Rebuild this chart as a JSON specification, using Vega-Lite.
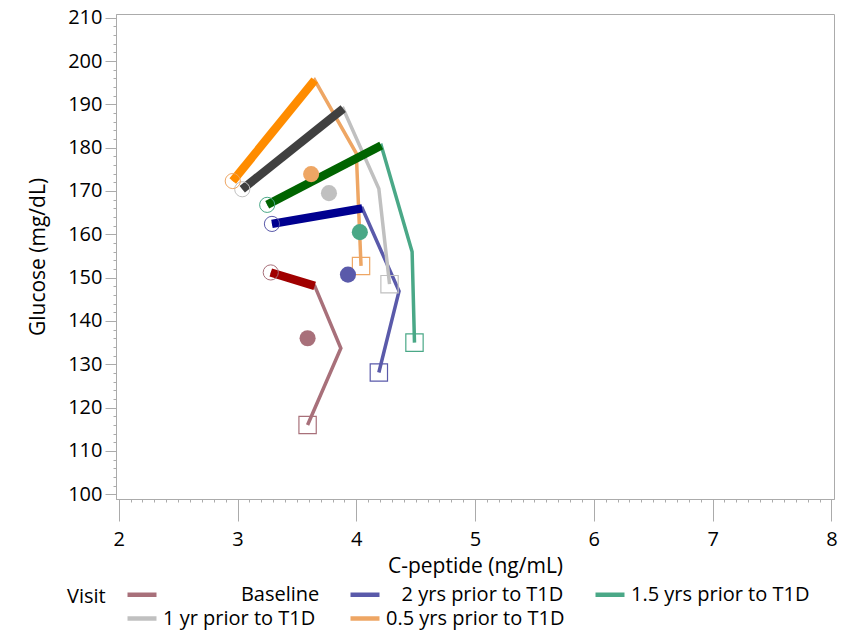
{
  "$schema": "https://vega.github.io/schema/vega-lite/v6.json",
  "width": 718,
  "height": 485,
  "autosize": {"type": "none"},
  "padding": {"left": 116, "top": 14, "right": 25, "bottom": 131},
  "background": "white",
  "config": {
    "font": "Open Sans",
    "view": {"stroke": "#ABABAB", "strokeWidth": 1},
    "axis": {
      "grid": false,
      "domainColor": "#ABABAB",
      "tickColor": "#ABABAB",
      "labelColor": "#000000",
      "labelFontSize": 20,
      "titleColor": "#000000",
      "titleFontSize": 21,
      "titleFontWeight": "normal"
    }
  },
  "datasets": {
    "ogtt": [
      {"visit": "Baseline", "step": 1, "cpep": 3.28, "glu": 151.2},
      {"visit": "Baseline", "step": 2, "cpep": 3.65, "glu": 148.1},
      {"visit": "Baseline", "step": 3, "cpep": 3.87, "glu": 133.7},
      {"visit": "Baseline", "step": 4, "cpep": 3.59, "glu": 116.0},
      {"visit": "2 yrs prior to T1D", "step": 1, "cpep": 3.29, "glu": 162.4},
      {"visit": "2 yrs prior to T1D", "step": 2, "cpep": 4.05, "glu": 166.0},
      {"visit": "2 yrs prior to T1D", "step": 3, "cpep": 4.36, "glu": 146.9},
      {"visit": "2 yrs prior to T1D", "step": 4, "cpep": 4.19, "glu": 128.1},
      {"visit": "1.5 yrs prior to T1D", "step": 1, "cpep": 3.25, "glu": 166.8},
      {"visit": "1.5 yrs prior to T1D", "step": 2, "cpep": 4.21, "glu": 180.5},
      {"visit": "1.5 yrs prior to T1D", "step": 3, "cpep": 4.47, "glu": 156.0},
      {"visit": "1.5 yrs prior to T1D", "step": 4, "cpep": 4.49, "glu": 135.0},
      {"visit": "1 yr prior to T1D", "step": 1, "cpep": 3.04, "glu": 170.4},
      {"visit": "1 yr prior to T1D", "step": 2, "cpep": 3.89, "glu": 189.0},
      {"visit": "1 yr prior to T1D", "step": 3, "cpep": 4.19, "glu": 170.5},
      {"visit": "1 yr prior to T1D", "step": 4, "cpep": 4.28, "glu": 148.5},
      {"visit": "0.5 yrs prior to T1D", "step": 1, "cpep": 2.96, "glu": 172.3},
      {"visit": "0.5 yrs prior to T1D", "step": 2, "cpep": 3.65, "glu": 195.6},
      {"visit": "0.5 yrs prior to T1D", "step": 3, "cpep": 4.0, "glu": 178.7},
      {"visit": "0.5 yrs prior to T1D", "step": 4, "cpep": 4.04, "glu": 152.7}
    ],
    "means": [
      {"visit": "Baseline", "cpep": 3.59, "glu": 136.0},
      {"visit": "2 yrs prior to T1D", "cpep": 3.93, "glu": 150.7},
      {"visit": "1.5 yrs prior to T1D", "cpep": 4.03, "glu": 160.5},
      {"visit": "1 yr prior to T1D", "cpep": 3.77, "glu": 169.5},
      {"visit": "0.5 yrs prior to T1D", "cpep": 3.62, "glu": 173.9}
    ]
  },
  "resolve": {"axis": {"x": "independent", "y": "independent"}},
  "layer": [
    {
      "data": {"name": "ogtt"},
      "mark": {"type": "line", "strokeWidth": 3.5},
      "encoding": {
        "x": {
          "field": "cpep",
          "type": "quantitative",
          "scale": {"domain": [1.977, 8.022], "nice": false, "zero": false},
          "axis": {
            "orient": "bottom",
            "title": "C-peptide (ng/mL)",
            "values": [2, 3, 4, 5, 6, 7, 8],
            "format": "d",
            "tickSize": 22,
            "labelPadding": 8,
            "titlePadding": 6
          }
        },
        "y": {
          "field": "glu",
          "type": "quantitative",
          "scale": {"domain": [98.91, 210.85], "nice": false, "zero": false},
          "axis": {
            "orient": "left",
            "title": "Glucose (mg/dL)",
            "values": [100, 110, 120, 130, 140, 150, 160, 170, 180, 190, 200, 210],
            "tickSize": 11,
            "labelPadding": 3,
            "titlePadding": 19
          }
        },
        "color": {
          "field": "visit",
          "type": "nominal",
          "scale": {
            "domain": ["Baseline", "2 yrs prior to T1D", "1.5 yrs prior to T1D", "1 yr prior to T1D", "0.5 yrs prior to T1D"],
            "range": ["#A8707A", "#5A5AAA", "#4AA887", "#C0C0C0", "#EEA664"]
          },
          "legend": {
            "orient": "none",
            "legendX": -49,
            "legendY": 568,
            "direction": "horizontal",
            "columns": 3,
            "columnPadding": 21,
            "rowPadding": 1,
            "title": "Visit",
            "titleOrient": "left",
            "titleAnchor": "start",
            "titleBaseline": "line-top",
            "titleLineHeight": 30,
            "titleFontSize": 20,
            "titleFontWeight": "normal",
            "titleColor": "#000000",
            "titlePadding": 19,
            "labelFontSize": 20,
            "labelColor": "#000000",
            "labelLimit": 400,
            "labelOffset": 13,
            "labelExpr": "datum.label == 'Baseline' ? '\u200b\u00a0\u00a0\u00a0\u00a0\u00a0\u00a0\u00a0\u00a0\u00a0\u00a0\u00a0\u00a0\u00a0\u00a0\u00a0Baseline' : datum.label == '2 yrs prior to T1D' ? '\u200b\u00a0\u00a0\u00a02 yrs prior to T1D' : datum.label",
            "symbolType": "M-1,0H1.9",
            "symbolSize": 400,
            "symbolStrokeWidth": 4.5
          }
        },
        "order": {"field": "step", "type": "quantitative"}
      }
    },
    {
      "data": {"name": "ogtt"},
      "transform": [{"filter": "datum.step <= 2"}],
      "mark": {"type": "line", "strokeWidth": 8.5},
      "encoding": {
        "x": {
          "field": "cpep",
          "type": "quantitative",
          "axis": {
            "orient": "bottom",
            "title": null,
            "labels": false,
            "domain": false,
            "tickSize": 3,
            "values": [2, 2.1, 2.2, 2.3, 2.4, 2.5, 2.6, 2.7, 2.8, 2.9, 3, 3.1, 3.2, 3.3, 3.4, 3.5, 3.6, 3.7, 3.8, 3.9, 4, 4.1, 4.2, 4.3, 4.4, 4.5, 4.6, 4.7, 4.8, 4.9, 5, 5.1, 5.2, 5.3, 5.4, 5.5, 5.6, 5.7, 5.8, 5.9, 6, 6.1, 6.2, 6.3, 6.4, 6.5, 6.6, 6.7, 6.8, 6.9, 7, 7.1, 7.2, 7.3, 7.4, 7.5, 7.6, 7.7, 7.8, 7.9, 8]
          }
        },
        "y": {
          "field": "glu",
          "type": "quantitative",
          "axis": {
            "orient": "left",
            "title": null,
            "labels": false,
            "domain": false,
            "tickSize": 3,
            "values": [100, 102, 104, 106, 108, 110, 112, 114, 116, 118, 120, 122, 124, 126, 128, 130, 132, 134, 136, 138, 140, 142, 144, 146, 148, 150, 152, 154, 156, 158, 160, 162, 164, 166, 168, 170, 172, 174, 176, 178, 180, 182, 184, 186, 188, 190, 192, 194, 196, 198, 200, 202, 204, 206, 208, 210]
          }
        },
        "stroke": {
          "field": "visit",
          "type": "nominal",
          "scale": {
            "domain": ["Baseline", "2 yrs prior to T1D", "1.5 yrs prior to T1D", "1 yr prior to T1D", "0.5 yrs prior to T1D"],
            "range": ["#A00000", "#000090", "#006400", "#404040", "#FF8C00"]
          },
          "legend": null
        },
        "order": {"field": "step", "type": "quantitative"}
      }
    },
    {
      "data": {"name": "ogtt"},
      "transform": [{"filter": "datum.step == 1"}],
      "mark": {"type": "point", "shape": "circle", "filled": false, "size": 230, "strokeWidth": 1, "opacity": 1},
      "encoding": {
        "x": {"field": "cpep", "type": "quantitative", "axis": null},
        "y": {"field": "glu", "type": "quantitative", "axis": null},
        "color": {"field": "visit", "type": "nominal", "legend": null}
      }
    },
    {
      "data": {"name": "ogtt"},
      "transform": [{"filter": "datum.step == 4"}],
      "mark": {"type": "point", "shape": "square", "filled": false, "size": 300, "strokeWidth": 1.2, "opacity": 1},
      "encoding": {
        "x": {"field": "cpep", "type": "quantitative", "axis": null},
        "y": {"field": "glu", "type": "quantitative", "axis": null},
        "color": {"field": "visit", "type": "nominal", "legend": null}
      }
    },
    {
      "data": {"name": "means"},
      "mark": {"type": "circle", "size": 260, "opacity": 1},
      "encoding": {
        "x": {"field": "cpep", "type": "quantitative", "axis": null},
        "y": {"field": "glu", "type": "quantitative", "axis": null},
        "color": {"field": "visit", "type": "nominal", "legend": null}
      }
    }
  ]
}
